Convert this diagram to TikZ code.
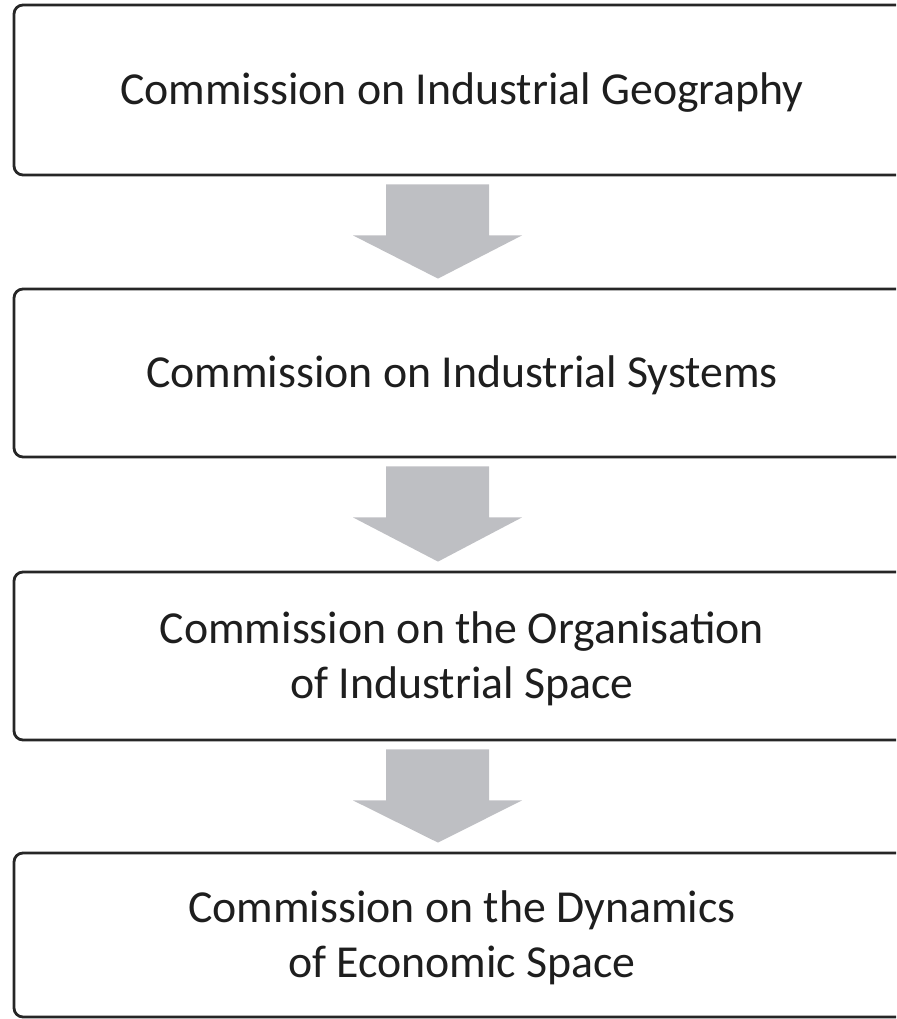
\documentclass[tikz,border=0pt]{standalone}
\usepackage{fontspec}
\setmainfont{Carlito}
\usetikzlibrary{calc}
\definecolor{boxline}{HTML}{262626}
\definecolor{arrowgray}{HTML}{BEBFC3}
\definecolor{txt}{HTML}{1E1E1E}
\tikzset{
  stagebox/.style={draw=boxline, line width=2.8pt, rounded corners=9pt, fill=white,
    minimum width=896pt, minimum height=168pt, inner sep=0pt, align=center,
    text=txt, font=\fontsize{45.8}{55}\selectfont, text depth=0pt},
  flowarrow/.style={fill=arrowgray, draw=none}
}
\begin{document}
\begin{tikzpicture}[x=1pt,y=-1pt]
\useasboundingbox (0,0) rectangle (896,1019);
\clip (0,0) rectangle (896,1019);
\node[stagebox, text height=29.5pt, minimum height=170pt] (b1) at (462,90) {Commission on Industrial Geography};
\node[stagebox, text height=29.5pt] (b2) at (462,373) {Commission on Industrial Systems};
\node[stagebox, text height=84.5pt] (b3) at (462,656) {Commission on the Organisation\\of Industrial Space};
\node[stagebox, text height=84.5pt, minimum height=164pt] (b4) at (462,935) {Commission on the Dynamics\\of Economic Space};
\foreach \a/\b in {b1/b2,b2/b3,b3/b4}{
  \fill[flowarrow] ($(\a.south)+(-76,8)$) -- ($(\a.south)+(27,8)$) -- ($(\a.south)+(27,59)$)
    -- ($(\a.south)+(60,59)$) -- ($(\b.north)+(-24,-9)$) -- ($(\a.south)+(-109,59)$)
    -- ($(\a.south)+(-76,59)$) -- cycle;
}
\end{tikzpicture}
\end{document}
